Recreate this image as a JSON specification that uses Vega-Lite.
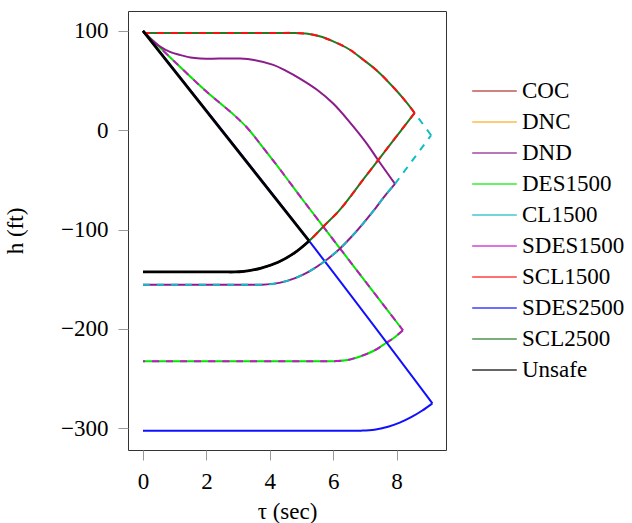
{
  "$schema": "https://vega.github.io/schema/vega-lite/v6.json",
  "width": 318,
  "height": 439,
  "autosize": {"type": "none"},
  "padding": {"left": 128, "top": 11, "right": 186, "bottom": 73},
  "config": {
    "font": "Liberation Serif",
    "view": {"stroke": "#333333", "strokeWidth": 1},
    "axis": {
      "domain": false, "grid": false, "tickColor": "#9a9a9a", "tickSize": 10, "tickWidth": 1,
      "labelFont": "Liberation Serif", "labelFontSize": 23, "labelColor": "#000000", "labelPadding": 10,
      "titleFont": "Liberation Serif", "titleFontSize": 23, "titleFontWeight": "normal", "titleColor": "#000000"
    }
  },
  "datasets": {
    "d": [
      {"s": "SCL2500", "g": 1, "i": 0, "x": 0, "h": 98},
      {"s": "SCL2500", "g": 1, "i": 1, "x": 2.0, "h": 98},
      {"s": "SCL2500", "g": 1, "i": 2, "x": 4.3, "h": 98},
      {"s": "SCL2500", "g": 1, "i": 3, "x": 4.8, "h": 98},
      {"s": "SCL2500", "g": 1, "i": 4, "x": 5.2, "h": 97.1},
      {"s": "SCL2500", "g": 1, "i": 5, "x": 5.6, "h": 94.4},
      {"s": "SCL2500", "g": 1, "i": 6, "x": 6.0, "h": 89.5},
      {"s": "SCL2500", "g": 1, "i": 7, "x": 6.5, "h": 81.6},
      {"s": "SCL2500", "g": 1, "i": 8, "x": 6.95, "h": 71},
      {"s": "SCL2500", "g": 1, "i": 9, "x": 7.4, "h": 59.5},
      {"s": "SCL2500", "g": 1, "i": 10, "x": 7.95, "h": 41.5},
      {"s": "SCL2500", "g": 1, "i": 11, "x": 8.3, "h": 28.5},
      {"s": "SCL2500", "g": 1, "i": 12, "x": 8.57, "h": 17.4},
      {"s": "SCL2500", "g": 2, "i": 12, "x": 8.57, "h": 17.4},
      {"s": "SCL2500", "g": 2, "i": 13, "x": 7.82, "h": -13.4},
      {"s": "SCL2500", "g": 2, "i": 14, "x": 7.01, "h": -47},
      {"s": "SCL2500", "g": 2, "i": 15, "x": 6.2, "h": -80.5},
      {"s": "SCL2500", "g": 2, "i": 16, "x": 5.73, "h": -95.7},
      {"s": "SCL2500", "g": 2, "i": 17, "x": 5.24, "h": -111.5},
      {"s": "SCL2500", "g": 2, "i": 18, "x": 4.78, "h": -123.5},
      {"s": "SCL2500", "g": 2, "i": 19, "x": 4.26, "h": -133},
      {"s": "SCL2500", "g": 2, "i": 20, "x": 3.73, "h": -138.8},
      {"s": "SCL2500", "g": 2, "i": 21, "x": 3.3, "h": -141.6},
      {"s": "SCL2500", "g": 2, "i": 22, "x": 3.05, "h": -142.5},
      {"s": "SCL2500", "g": 2, "i": 23, "x": 2.89, "h": -142.7},
      {"s": "SCL2500", "g": 2, "i": 24, "x": 2.5, "h": -142.7},
      {"s": "SCL2500", "g": 2, "i": 25, "x": 1.0, "h": -142.7},
      {"s": "SCL2500", "g": 2, "i": 26, "x": 0, "h": -142.7},

      {"s": "SCL1500", "g": 1, "i": 0, "x": 0, "h": 98},
      {"s": "SCL1500", "g": 1, "i": 1, "x": 2.0, "h": 98},
      {"s": "SCL1500", "g": 1, "i": 2, "x": 4.3, "h": 98},
      {"s": "SCL1500", "g": 1, "i": 3, "x": 4.8, "h": 98},
      {"s": "SCL1500", "g": 1, "i": 4, "x": 5.2, "h": 97.1},
      {"s": "SCL1500", "g": 1, "i": 5, "x": 5.6, "h": 94.4},
      {"s": "SCL1500", "g": 1, "i": 6, "x": 6.0, "h": 89.5},
      {"s": "SCL1500", "g": 1, "i": 7, "x": 6.5, "h": 81.6},
      {"s": "SCL1500", "g": 1, "i": 8, "x": 6.95, "h": 71},
      {"s": "SCL1500", "g": 1, "i": 9, "x": 7.4, "h": 59.5},
      {"s": "SCL1500", "g": 1, "i": 10, "x": 7.95, "h": 41.5},
      {"s": "SCL1500", "g": 1, "i": 11, "x": 8.3, "h": 28.5},
      {"s": "SCL1500", "g": 1, "i": 12, "x": 8.57, "h": 17.4},
      {"s": "SCL1500", "g": 2, "i": 12, "x": 8.57, "h": 17.4},
      {"s": "SCL1500", "g": 2, "i": 13, "x": 7.82, "h": -13.4},
      {"s": "SCL1500", "g": 2, "i": 14, "x": 7.01, "h": -47},
      {"s": "SCL1500", "g": 2, "i": 15, "x": 6.2, "h": -80.5},
      {"s": "SCL1500", "g": 2, "i": 16, "x": 5.73, "h": -95.7},
      {"s": "SCL1500", "g": 2, "i": 17, "x": 5.24, "h": -111.5},
      {"s": "SCL1500", "g": 2, "i": 18, "x": 4.78, "h": -123.5},
      {"s": "SCL1500", "g": 2, "i": 19, "x": 4.26, "h": -133},
      {"s": "SCL1500", "g": 2, "i": 20, "x": 3.73, "h": -138.8},
      {"s": "SCL1500", "g": 2, "i": 21, "x": 3.3, "h": -141.6},
      {"s": "SCL1500", "g": 2, "i": 22, "x": 3.05, "h": -142.5},
      {"s": "SCL1500", "g": 2, "i": 23, "x": 2.89, "h": -142.7},
      {"s": "SCL1500", "g": 2, "i": 24, "x": 2.5, "h": -142.7},
      {"s": "SCL1500", "g": 2, "i": 25, "x": 1.0, "h": -142.7},
      {"s": "SCL1500", "g": 2, "i": 26, "x": 0, "h": -142.7},

      {"s": "Unsafe", "g": 1, "i": 0, "x": 0, "h": 100},
      {"s": "Unsafe", "g": 1, "i": 1, "x": 5.24, "h": -111.5},
      {"s": "Unsafe", "g": 2, "i": 1, "x": 5.24, "h": -111.5},
      {"s": "Unsafe", "g": 2, "i": 2, "x": 4.78, "h": -123.5},
      {"s": "Unsafe", "g": 2, "i": 3, "x": 4.26, "h": -133},
      {"s": "Unsafe", "g": 2, "i": 4, "x": 3.73, "h": -138.8},
      {"s": "Unsafe", "g": 2, "i": 5, "x": 3.3, "h": -141.6},
      {"s": "Unsafe", "g": 2, "i": 6, "x": 3.05, "h": -142.5},
      {"s": "Unsafe", "g": 2, "i": 7, "x": 2.89, "h": -142.7},
      {"s": "Unsafe", "g": 2, "i": 8, "x": 2.5, "h": -142.7},
      {"s": "Unsafe", "g": 2, "i": 9, "x": 1.0, "h": -142.7},
      {"s": "Unsafe", "g": 2, "i": 10, "x": 0, "h": -142.7},

      {"s": "DES1500", "g": 1, "i": 0, "x": 0, "h": 100},
      {"s": "DES1500", "g": 1, "i": 1, "x": 1.0, "h": 69},
      {"s": "DES1500", "g": 1, "i": 2, "x": 2.0, "h": 39},
      {"s": "DES1500", "g": 1, "i": 3, "x": 2.85, "h": 16},
      {"s": "DES1500", "g": 1, "i": 4, "x": 3.3, "h": 2},
      {"s": "DES1500", "g": 1, "i": 5, "x": 3.8, "h": -18},
      {"s": "DES1500", "g": 1, "i": 6, "x": 4.3, "h": -38.5},
      {"s": "DES1500", "g": 1, "i": 7, "x": 5.05, "h": -70.5},
      {"s": "DES1500", "g": 1, "i": 8, "x": 6.6, "h": -135},
      {"s": "DES1500", "g": 1, "i": 9, "x": 8.2, "h": -201.4},
      {"s": "DES1500", "g": 2, "i": 9, "x": 8.2, "h": -201.4},
      {"s": "DES1500", "g": 2, "i": 10, "x": 7.9, "h": -209.5},
      {"s": "DES1500", "g": 2, "i": 11, "x": 7.68, "h": -214},
      {"s": "DES1500", "g": 2, "i": 12, "x": 7.3, "h": -221.8},
      {"s": "DES1500", "g": 2, "i": 13, "x": 6.89, "h": -227.3},
      {"s": "DES1500", "g": 2, "i": 14, "x": 6.45, "h": -231.4},
      {"s": "DES1500", "g": 2, "i": 15, "x": 6.05, "h": -232.5},
      {"s": "DES1500", "g": 2, "i": 16, "x": 5.6, "h": -232.5},
      {"s": "DES1500", "g": 2, "i": 17, "x": 3.0, "h": -232.5},
      {"s": "DES1500", "g": 2, "i": 18, "x": 0, "h": -232.5},

      {"s": "SDES1500", "g": 1, "i": 0, "x": 0, "h": 100},
      {"s": "SDES1500", "g": 1, "i": 1, "x": 1.0, "h": 69},
      {"s": "SDES1500", "g": 1, "i": 2, "x": 2.0, "h": 39},
      {"s": "SDES1500", "g": 1, "i": 3, "x": 2.85, "h": 16},
      {"s": "SDES1500", "g": 1, "i": 4, "x": 3.3, "h": 2},
      {"s": "SDES1500", "g": 1, "i": 5, "x": 3.8, "h": -18},
      {"s": "SDES1500", "g": 1, "i": 6, "x": 4.3, "h": -38.5},
      {"s": "SDES1500", "g": 1, "i": 7, "x": 5.05, "h": -70.5},
      {"s": "SDES1500", "g": 1, "i": 8, "x": 6.6, "h": -135},
      {"s": "SDES1500", "g": 1, "i": 9, "x": 8.2, "h": -201.4},
      {"s": "SDES1500", "g": 2, "i": 9, "x": 8.2, "h": -201.4},
      {"s": "SDES1500", "g": 2, "i": 10, "x": 7.9, "h": -209.5},
      {"s": "SDES1500", "g": 2, "i": 11, "x": 7.68, "h": -214},
      {"s": "SDES1500", "g": 2, "i": 12, "x": 7.3, "h": -221.8},
      {"s": "SDES1500", "g": 2, "i": 13, "x": 6.89, "h": -227.3},
      {"s": "SDES1500", "g": 2, "i": 14, "x": 6.45, "h": -231.4},
      {"s": "SDES1500", "g": 2, "i": 15, "x": 6.05, "h": -232.5},
      {"s": "SDES1500", "g": 2, "i": 16, "x": 5.6, "h": -232.5},
      {"s": "SDES1500", "g": 2, "i": 17, "x": 3.0, "h": -232.5},
      {"s": "SDES1500", "g": 2, "i": 18, "x": 0, "h": -232.5},

      {"s": "SDES2500", "g": 1, "i": 0, "x": 0, "h": 100},
      {"s": "SDES2500", "g": 1, "i": 1, "x": 5.24, "h": -111.5},
      {"s": "SDES2500", "g": 1, "i": 2, "x": 9.13, "h": -275},
      {"s": "SDES2500", "g": 2, "i": 2, "x": 9.13, "h": -275},
      {"s": "SDES2500", "g": 2, "i": 3, "x": 8.8, "h": -282.5},
      {"s": "SDES2500", "g": 2, "i": 4, "x": 8.46, "h": -289},
      {"s": "SDES2500", "g": 2, "i": 5, "x": 8.1, "h": -294.5},
      {"s": "SDES2500", "g": 2, "i": 6, "x": 7.73, "h": -298.6},
      {"s": "SDES2500", "g": 2, "i": 7, "x": 7.3, "h": -301.6},
      {"s": "SDES2500", "g": 2, "i": 8, "x": 6.89, "h": -302.5},
      {"s": "SDES2500", "g": 2, "i": 9, "x": 6.4, "h": -302.5},
      {"s": "SDES2500", "g": 2, "i": 10, "x": 3.0, "h": -302.5},
      {"s": "SDES2500", "g": 2, "i": 11, "x": 0, "h": -302.5},

      {"s": "DND", "g": 1, "i": 0, "x": 0, "h": 100},
      {"s": "DND", "g": 1, "i": 1, "x": 0.25, "h": 92},
      {"s": "DND", "g": 1, "i": 2, "x": 0.54, "h": 84.3},
      {"s": "DND", "g": 1, "i": 3, "x": 0.85, "h": 79},
      {"s": "DND", "g": 1, "i": 4, "x": 1.17, "h": 75.8},
      {"s": "DND", "g": 1, "i": 5, "x": 1.5, "h": 73.2},
      {"s": "DND", "g": 1, "i": 6, "x": 1.8, "h": 72.2},
      {"s": "DND", "g": 1, "i": 7, "x": 2.4, "h": 72.2},
      {"s": "DND", "g": 1, "i": 8, "x": 3.06, "h": 72.2},
      {"s": "DND", "g": 1, "i": 9, "x": 3.5, "h": 70.8},
      {"s": "DND", "g": 1, "i": 10, "x": 4.11, "h": 65.8},
      {"s": "DND", "g": 1, "i": 11, "x": 4.5, "h": 60},
      {"s": "DND", "g": 1, "i": 12, "x": 4.95, "h": 52},
      {"s": "DND", "g": 1, "i": 13, "x": 5.5, "h": 40.5},
      {"s": "DND", "g": 1, "i": 14, "x": 6.0, "h": 26.9},
      {"s": "DND", "g": 1, "i": 15, "x": 6.5, "h": 9},
      {"s": "DND", "g": 1, "i": 16, "x": 7.06, "h": -13.4},
      {"s": "DND", "g": 1, "i": 17, "x": 7.42, "h": -30.2},
      {"s": "DND", "g": 1, "i": 18, "x": 7.95, "h": -54},
      {"s": "DND", "g": 2, "i": 18, "x": 7.95, "h": -54},
      {"s": "DND", "g": 2, "i": 19, "x": 7.6, "h": -67.3},
      {"s": "DND", "g": 2, "i": 20, "x": 7.25, "h": -82},
      {"s": "DND", "g": 2, "i": 21, "x": 6.7, "h": -103},
      {"s": "DND", "g": 2, "i": 22, "x": 6.2, "h": -119.5},
      {"s": "DND", "g": 2, "i": 23, "x": 5.7, "h": -132.7},
      {"s": "DND", "g": 2, "i": 24, "x": 5.25, "h": -142},
      {"s": "DND", "g": 2, "i": 25, "x": 4.8, "h": -148.9},
      {"s": "DND", "g": 2, "i": 26, "x": 4.3, "h": -153.7},
      {"s": "DND", "g": 2, "i": 27, "x": 3.75, "h": -155.5},
      {"s": "DND", "g": 2, "i": 28, "x": 3.3, "h": -155.5},
      {"s": "DND", "g": 2, "i": 29, "x": 1.5, "h": -155.5},
      {"s": "DND", "g": 2, "i": 30, "x": 0, "h": -155.5},

      {"s": "CL1500", "g": 1, "i": 0, "x": 0, "h": -155.5},
      {"s": "CL1500", "g": 1, "i": 1, "x": 1.5, "h": -155.5},
      {"s": "CL1500", "g": 1, "i": 2, "x": 3.3, "h": -155.5},
      {"s": "CL1500", "g": 1, "i": 3, "x": 3.75, "h": -155.5},
      {"s": "CL1500", "g": 1, "i": 4, "x": 4.3, "h": -153.7},
      {"s": "CL1500", "g": 1, "i": 5, "x": 4.8, "h": -148.9},
      {"s": "CL1500", "g": 1, "i": 6, "x": 5.25, "h": -142},
      {"s": "CL1500", "g": 1, "i": 7, "x": 5.7, "h": -132.7},
      {"s": "CL1500", "g": 1, "i": 8, "x": 6.2, "h": -119.5},
      {"s": "CL1500", "g": 1, "i": 9, "x": 6.7, "h": -103},
      {"s": "CL1500", "g": 1, "i": 10, "x": 7.25, "h": -82},
      {"s": "CL1500", "g": 1, "i": 11, "x": 7.6, "h": -67.3},
      {"s": "CL1500", "g": 1, "i": 12, "x": 7.95, "h": -54},
      {"s": "CL1500", "g": 2, "i": 12, "x": 7.95, "h": -54},
      {"s": "CL1500", "g": 2, "i": 13, "x": 9.09, "h": -5},
      {"s": "CL1500", "g": 3, "i": 13, "x": 9.09, "h": -5},
      {"s": "CL1500", "g": 3, "i": 14, "x": 8.57, "h": 17.4}
    ]
  },
  "data": {"name": "d"},
  "encoding": {
    "x": {
      "field": "x", "type": "quantitative",
      "scale": {"domain": [-0.473, 9.559], "nice": false, "zero": false},
      "axis": {"values": [0, 2, 4, 6, 8], "title": "τ (sec)", "titlePadding": 7}
    },
    "y": {
      "field": "h", "type": "quantitative",
      "scale": {"domain": [-322, 120.1], "nice": false, "zero": false},
      "axis": {"values": [-300, -200, -100, 0, 100], "title": "h (ft)", "titlePadding": 33}
    },
    "color": {
      "field": "s", "type": "nominal",
      "scale": {
        "domain": ["COC", "DNC", "DND", "DES1500", "CL1500", "SDES1500", "SCL1500", "SDES2500", "SCL2500", "Unsafe"],
        "range": ["#b03030", "#ffaa20", "#8b1c8b", "#00e800", "#12bcc4", "#c814c8", "#ff1010", "#1010ff", "#237a23", "#000000"]
      },
      "legend": {
        "orient": "none", "legendX": 343, "legendY": 64.5, "title": null,
        "symbolType": "stroke", "symbolSize": 1990, "symbolStrokeWidth": 1.4, "symbolOpacity": 0.8,
        "labelFont": "Liberation Serif", "labelFontSize": 23, "labelColor": "#000000", "labelOffset": 4,
        "rowPadding": 0, "clipHeight": 31, "padding": 0, "labelLimit": 200
      }
    },
    "detail": {"field": "g", "type": "nominal"},
    "order": {"field": "i", "type": "quantitative"}
  },
  "layer": [
    {"transform": [{"filter": "datum.s === 'DES1500'"}], "mark": {"type": "line", "strokeWidth": 2, "interpolate": "catmull-rom"}},
    {"transform": [{"filter": "datum.s === 'SDES1500'"}], "mark": {"type": "line", "strokeWidth": 2, "strokeDash": [7, 7], "interpolate": "catmull-rom"}},
    {"transform": [{"filter": "datum.s === 'SDES2500'"}], "mark": {"type": "line", "strokeWidth": 2, "interpolate": "catmull-rom"}},
    {"transform": [{"filter": "datum.s === 'DND'"}], "mark": {"type": "line", "strokeWidth": 2, "interpolate": "catmull-rom"}},
    {"transform": [{"filter": "datum.s === 'CL1500'"}], "mark": {"type": "line", "strokeWidth": 2, "strokeDash": [7, 7], "interpolate": "catmull-rom"}},
    {"transform": [{"filter": "datum.s === 'SCL2500'"}], "mark": {"type": "line", "strokeWidth": 2, "interpolate": "catmull-rom"}},
    {"transform": [{"filter": "datum.s === 'SCL1500'"}], "mark": {"type": "line", "strokeWidth": 2, "strokeDash": [7, 7], "interpolate": "catmull-rom"}},
    {"transform": [{"filter": "datum.s === 'Unsafe'"}], "mark": {"type": "line", "strokeWidth": 2.8, "interpolate": "catmull-rom"}}
  ]
}
